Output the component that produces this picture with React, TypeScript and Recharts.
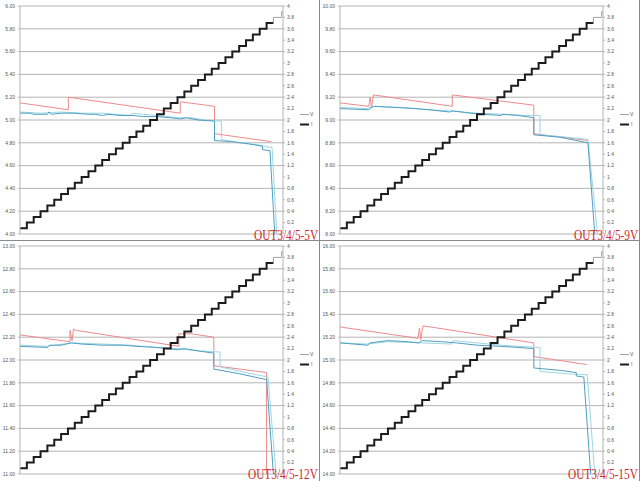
import React from 'react';
import { ComposedChart, Line, XAxis, YAxis, CartesianGrid } from 'recharts';

type Pt = [number, number];

// current steps (right axis, A) — one level per step index
const CURRENT_LEVELS = [
  0.1, 0.2, 0.3, 0.4, 0.5, 0.6, 0.7, 0.8, 0.9, 1.0,
  1.1, 1.2, 1.3, 1.4, 1.5, 1.6, 1.7, 1.8, 1.9, 2.0,
  2.1, 2.2, 2.3, 2.4, 2.5, 2.6, 2.7, 2.8, 2.9, 3.0,
  3.1, 3.2, 3.3, 3.4, 3.5, 3.6, 3.7,
];
const CURRENT_TAIL: Pt[] = [[37, 3.7], [37, 3.8], [38.2, 3.8], [38.2, 3.9], [38.4, 3.9]];
const RIGHT_TICKS = [0.2, 0.4, 0.6, 0.8, 1, 1.2, 1.4, 1.6, 1.8, 2, 2.2, 2.4, 2.6, 2.8, 3, 3.2, 3.4, 3.6, 3.8, 4];

// OUT3/4/5-5V
const RED_5V: Pt[] = [[0, 5.15], [7.06, 5.09], [7.06, 5.2], [23.4, 5.06], [23.4, 5.16], [28.4, 5.12], [28.4, 4.88], [36.7, 4.81]];
const TEAL_5V: Pt[] = [[0, 5.06], [1.5, 5.06], [2, 5.05], [4, 5.05], [4.2, 5.07], [4.6, 5.05], [6, 5.06], [8, 5.06], [10, 5.05], [11, 5.05], [12, 5.04], [13, 5.05], [14.5, 5.04], [16.5, 5.04], [18, 5.03], [20, 5.03], [22, 5.02], [23.4, 5.01], [24.3, 5.02], [26, 5.0], [28.4, 4.99], [28.4, 4.82], [31, 4.81], [33.5, 4.79], [35.4, 4.77], [35.4, 4.74], [36.5, 4.73], [37.2, 4.0]];
const CYAN_5V: Pt[] = [[0, 5.07], [3, 5.06], [6, 5.07], [9, 5.06], [12, 5.06], [14, 5.05], [16, 5.04], [16.5, 5.06], [18, 5.05], [20, 5.04], [23, 5.02], [25, 5.02], [27, 5.0], [29.4, 4.99], [29.4, 4.83], [32, 4.8], [35, 4.78], [36.5, 4.76], [36.8, 4.76], [37.5, 4.0]];
const TICKS_5V = [4.0, 4.2, 4.4, 4.6, 4.8, 5.0, 5.2, 5.4, 5.6, 5.8, 6.0];

// OUT3/4/5-9V
const RED_9V: Pt[] = [[0, 9.15], [4.2, 9.12], [4.4, 9.2], [4.6, 9.11], [4.9, 9.22], [16.4, 9.12], [16.4, 9.22], [28.3, 9.13], [28.3, 8.88], [36.2, 8.82]];
const TEAL_9V: Pt[] = [[0, 9.1], [4.2, 9.09], [4.6, 9.11], [5, 9.12], [8, 9.11], [11, 9.1], [13, 9.09], [16, 9.07], [16.5, 9.08], [19, 9.06], [21, 9.05], [23.5, 9.04], [23.8, 9.05], [26, 9.04], [28.3, 9.02], [28.3, 8.87], [32, 8.85], [36.2, 8.8], [37.2, 8.0]];
const CYAN_9V: Pt[] = [[0, 9.11], [4, 9.1], [5, 9.12], [9, 9.11], [13, 9.09], [16, 9.08], [20, 9.06], [24, 9.05], [27, 9.04], [29.2, 9.04], [29.2, 8.87], [33, 8.85], [36.2, 8.83], [37.6, 8.0]];
const TICKS_9V = [8.0, 8.2, 8.4, 8.6, 8.8, 9.0, 9.2, 9.4, 9.6, 9.8, 10.0];

// OUT3/4/5-12V
const RED_12V: Pt[] = [[0, 12.22], [7.3, 12.16], [7.3, 12.26], [7.6, 12.17], [7.8, 12.27], [8.2, 12.26], [23.2, 12.12], [23.2, 12.23], [25, 12.23], [28.3, 12.2], [28.3, 11.95], [36.0, 11.89], [36.0, 11.0]];
const TEAL_12V: Pt[] = [[0, 12.12], [4, 12.11], [4.3, 12.13], [6, 12.13], [7.5, 12.15], [9, 12.14], [12, 12.13], [15, 12.13], [17, 12.12], [20, 12.11], [23, 12.09], [24, 12.1], [26, 12.08], [28.3, 12.06], [28.3, 11.92], [32, 11.88], [35.8, 11.83], [36.0, 11.83], [37.0, 11.0]];
const CYAN_12V: Pt[] = [[0, 12.13], [4, 12.12], [7.5, 12.15], [12, 12.14], [16, 12.13], [20, 12.11], [23, 12.1], [26, 12.08], [29.2, 12.07], [29.2, 11.94], [33, 11.89], [36.2, 11.85], [37.4, 11.0]];
const TICKS_12V = [11.0, 11.2, 11.4, 11.6, 11.8, 12.0, 12.2, 12.4, 12.6, 12.8, 13.0];

// OUT3/4/5-15V
const RED_15V: Pt[] = [[0, 15.29], [11.4, 15.19], [11.6, 15.28], [11.8, 15.18], [12.1, 15.3], [28.3, 15.15], [28.3, 15.03], [36.0, 14.96]];
const TEAL_15V: Pt[] = [[0, 15.15], [2, 15.14], [4, 15.13], [4.4, 15.15], [7, 15.17], [10, 15.16], [11.5, 15.15], [12, 15.17], [15, 15.16], [17, 15.15], [20, 15.13], [23.5, 15.12], [26, 15.11], [28.3, 15.1], [28.3, 14.93], [32, 14.91], [34.5, 14.89], [34.5, 14.86], [35.6, 14.85], [36.6, 14.0]];
const CYAN_15V: Pt[] = [[0, 15.15], [4, 15.14], [7, 15.16], [12, 15.15], [16.3, 15.14], [16.5, 15.17], [20, 15.15], [23.5, 15.13], [26, 15.12], [29.2, 15.11], [29.2, 14.9], [33, 14.88], [36.1, 14.87], [37.2, 14.0]];
const TICKS_15V = [14.0, 14.2, 14.4, 14.6, 14.8, 15.0, 15.2, 15.4, 15.6, 15.8, 16.0];

const toRows = (pts: Pt[]) => pts.map(([x, y]) => ({ x, y }));
const currentRows = [
  ...CURRENT_LEVELS.map((y, i) => ({ x: i, y })),
  { x: CURRENT_LEVELS.length, y: CURRENT_LEVELS[CURRENT_LEVELS.length - 1] },
];

const AXIS_TEXT = { fontSize: 5, fill: '#555', fontFamily: 'Liberation Sans, Arial, sans-serif' };
const GRID = '#b4b4b4';

interface PanelProps {
  left: number;
  top: number;
  height: number;
  ticks: number[];
  red: Pt[];
  teal: Pt[];
  cyan: Pt[];
}

const Panel: React.FC<PanelProps> = ({ left, top, height, ticks, red, teal, cyan }) => (
  <div style={{ position: 'absolute', left, top, width: 320, height }}>
    <ComposedChart width={320} height={height} margin={{ top: 6, right: 23, bottom: height - 234, left: 0 }}>
      <XAxis xAxisId="x" type="number" dataKey="x" domain={[0, 38.4]} hide />
      <YAxis
        yAxisId="v"
        orientation="left"
        width={20}
        domain={[ticks[0], ticks[ticks.length - 1]]}
        ticks={ticks}
        tickFormatter={(v: number) => v.toFixed(2)}
        tick={AXIS_TEXT}
        tickSize={2}
        tickMargin={3}
        stroke={GRID}
        interval={0}
      />
      <YAxis
        yAxisId="i"
        orientation="right"
        width={14}
        domain={[0, 4]}
        ticks={RIGHT_TICKS}
        tick={{ ...AXIS_TEXT, textAnchor: 'start' }}
        tickSize={2}
        tickMargin={2}
        stroke={GRID}
        interval={0}
      />
      <CartesianGrid xAxisId="x" yAxisId="v" vertical={false} stroke={GRID} />
      <Line xAxisId="x" yAxisId="v" data={toRows(red)} dataKey="y" type="linear" stroke="#ef8a8a" strokeWidth={1} dot={false} isAnimationActive={false} />
      <Line xAxisId="x" yAxisId="v" data={toRows(cyan)} dataKey="y" type="linear" stroke="#9fd6e0" strokeWidth={1} dot={false} isAnimationActive={false} />
      <Line xAxisId="x" yAxisId="v" data={toRows(teal)} dataKey="y" type="linear" stroke="#4f9fc4" strokeWidth={1} dot={false} isAnimationActive={false} />
      <Line xAxisId="x" yAxisId="i" data={currentRows} dataKey="y" type="stepAfter" stroke="#1c1c1c" strokeWidth={2} dot={false} isAnimationActive={false} />
      <Line xAxisId="x" yAxisId="i" data={toRows(CURRENT_TAIL)} dataKey="y" type="linear" stroke="#9aa4ab" strokeWidth={1} dot={false} isAnimationActive={false} />
    </ComposedChart>
    <svg width={320} height={height} style={{ position: 'absolute', left: 0, top: 0, pointerEvents: 'none' }}>
      <line x1={300} x2={309} y1={114.5} y2={114.5} stroke="#9aa4ab" strokeWidth={1} />
      <text x={310} y={116} style={AXIS_TEXT}>V</text>
      <line x1={300} x2={309} y1={124.5} y2={124.5} stroke="#1c1c1c" strokeWidth={2} />
      <text x={311} y={126} style={AXIS_TEXT}>I</text>
    </svg>
  </div>
);

// panel captions, squeezed horizontally like the narrow serif of the original
const LABELS = [
  { text: 'OUT3/4/5-5V', x: 254, y: 240 },
  { text: 'OUT3/4/5-9V', x: 574, y: 240 },
  { text: 'OUT3/4/5-12V', x: 248, y: 479 },
  { text: 'OUT3/4/5-15V', x: 568, y: 479 },
];

export default function App() {
  return (
    <div style={{ position: 'absolute', left: 0, top: 0, width: 640, height: 481, background: '#fff', overflow: 'hidden' }}>
      <Panel left={0} top={0} height={240} ticks={TICKS_5V} red={RED_5V} teal={TEAL_5V} cyan={CYAN_5V} />
      <Panel left={320} top={0} height={240} ticks={TICKS_9V} red={RED_9V} teal={TEAL_9V} cyan={CYAN_9V} />
      <Panel left={0} top={240} height={241} ticks={TICKS_12V} red={RED_12V} teal={TEAL_12V} cyan={CYAN_12V} />
      <Panel left={320} top={240} height={241} ticks={TICKS_15V} red={RED_15V} teal={TEAL_15V} cyan={CYAN_15V} />
      <svg width={640} height={481} style={{ position: 'absolute', left: 0, top: 0, pointerEvents: 'none' }}>
        <line x1={319.5} x2={319.5} y1={0} y2={481} stroke="#8a8a8a" />
        <line x1={0} x2={640} y1={240.5} y2={240.5} stroke="#8a8a8a" />
        <line x1={639.5} x2={639.5} y1={0} y2={481} stroke="#8a8a8a" />
        {LABELS.map((l) => (
          <text
            key={l.text}
            transform={`translate(${l.x},${l.y}) scale(0.81,1)`}
            fill="#cc2a2a"
            fontSize={14}
            fontFamily="Liberation Serif, serif"
          >
            {l.text}
          </text>
        ))}
      </svg>
    </div>
  );
}
